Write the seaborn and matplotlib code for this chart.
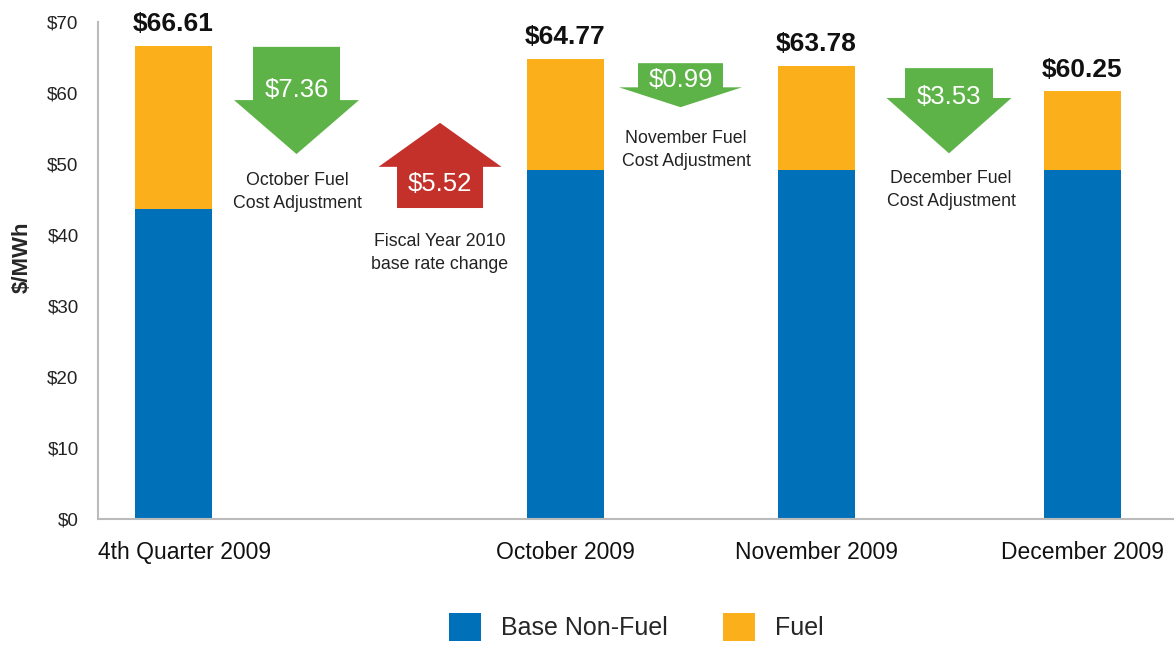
import matplotlib
matplotlib.use("Agg")
import matplotlib.pyplot as plt
from matplotlib.patches import Polygon, Patch
from matplotlib.transforms import ScaledTranslation
import seaborn as sns
import pandas as pd

categories = ["4th Quarter 2009", "October 2009", "November 2009", "December 2009"]
base_non_fuel = [43.70, 49.22, 49.22, 49.22]
totals = [66.61, 64.77, 63.78, 60.25]
fuel = [t - b for t, b in zip(totals, base_non_fuel)]
total_labels = ["$66.61", "$64.77", "$63.78", "$60.25"]
y_ticks = [0, 10, 20, 30, 40, 50, 60, 70]
y_tick_labels = ["$0", "$10", "$20", "$30", "$40", "$50", "$60", "$70"]

# adjustments (decorative arrows)
adj_values = ["$7.36", "$5.52", "$0.99", "$3.53"]
adj_texts = ["October Fuel\nCost Adjustment", "Fiscal Year 2010\nbase rate change",
             "November Fuel\nCost Adjustment", "December Fuel\nCost Adjustment"]

# layout
x_pos = [0.75, 4.67, 7.18, 9.84]
BAR_W = 0.77 / 2.51  # seaborn native scale: width relative to min spacing
BLUE = "#0071b9"
ORANGE = "#fbb01b"
GREEN = "#5db347"
RED = "#c4302a"

sns.set_theme(style="white")
FONT = ["Liberation Sans", "DejaVu Sans"]
plt.rcParams["font.family"] = FONT

fig = plt.figure(figsize=(11.74, 6.45), dpi=100)
ax = fig.add_axes([0.0835, 0.1953, 0.9165, 0.7706])

df = pd.DataFrame({"x": x_pos, "total": totals, "base": base_non_fuel})
sns.barplot(data=df, x="x", y="total", native_scale=True, color=ORANGE,
            saturation=1, width=BAR_W, ax=ax, linewidth=0)
sns.barplot(data=df, x="x", y="base", native_scale=True, color=BLUE,
            saturation=1, width=BAR_W, ax=ax, linewidth=0)

ax.bar_label(ax.containers[0], labels=total_labels, padding=7,
             fontsize=19, fontweight="bold", color="#111111")

ax.set_xlim(0, 10.76)
ax.set_ylim(0, 70)
ax.set_yticks(y_ticks)
ax.set_yticklabels(y_tick_labels, fontsize=13.5, color="#222222")
ax.set_xticks(x_pos)
ax.set_xticklabels(categories, fontsize=16.5, color="#111111")
ax.tick_params(axis="x", pad=16, length=0)
ax.tick_params(axis="y", pad=14, length=0)
# first category label sits slightly right of its bar in the original
lbl0 = ax.get_xticklabels()[0]
lbl0.set_transform(lbl0.get_transform() + ScaledTranslation(0.12, 0, fig.dpi_scale_trans))
ax.set_xlabel("")
ax.set_ylabel("$/MWh", fontsize=16, fontweight="bold")
ax.yaxis.set_label_coords(-0.0604, 0.527)
for s in ["top", "right"]:
    ax.spines[s].set_visible(False)
for s in ["left", "bottom"]:
    ax.spines[s].set_color("#bbbbbb")
    ax.spines[s].set_linewidth(1.5)


def block_arrow(cx, bw, hw, base, hb, tip, color):
    pts = [(cx - bw / 2, base), (cx + bw / 2, base), (cx + bw / 2, hb), (cx + hw / 2, hb),
           (cx, tip), (cx - hw / 2, hb), (cx - bw / 2, hb)]
    ax.add_patch(Polygon(pts, closed=True, color=color, lw=0, zorder=3, clip_on=False))


block_arrow(1.985, 0.87, 1.25, 66.5, 59.0, 51.4, GREEN)
block_arrow(3.42, 0.86, 1.23, 43.8, 49.6, 55.8, RED)
block_arrow(5.825, 0.85, 1.23, 64.2, 60.8, 58.0, GREEN)
block_arrow(8.51, 0.88, 1.25, 63.5, 59.3, 51.5, GREEN)

val_pos = [(1.99, 60.4), (3.42, 47.2), (5.825, 61.9), (8.51, 59.4)]
for (x, y), t in zip(val_pos, adj_values):
    ax.text(x, y, t, ha="center", va="center", color="white", fontsize=18.5, zorder=4)

txt_pos = [(1.99, 46.1), (3.42, 37.5), (5.88, 52.0), (8.53, 46.3)]
for (x, y), t in zip(txt_pos, adj_texts):
    ax.text(x, y, t, ha="center", va="center", color="#222222", fontsize=12.8,
            linespacing=1.45, zorder=4)

handles = [Patch(facecolor=BLUE, edgecolor="none", label="Base Non-Fuel"),
           Patch(facecolor=ORANGE, edgecolor="none", label="Fuel")]
fig.legend(handles=handles, loc="center", bbox_to_anchor=(0.542, 0.028), ncol=2,
           frameon=False, fontsize=18, handlelength=1.3, handleheight=1.3,
           columnspacing=2.2, handletextpad=0.8)

fig.savefig("out.png", dpi=100)
